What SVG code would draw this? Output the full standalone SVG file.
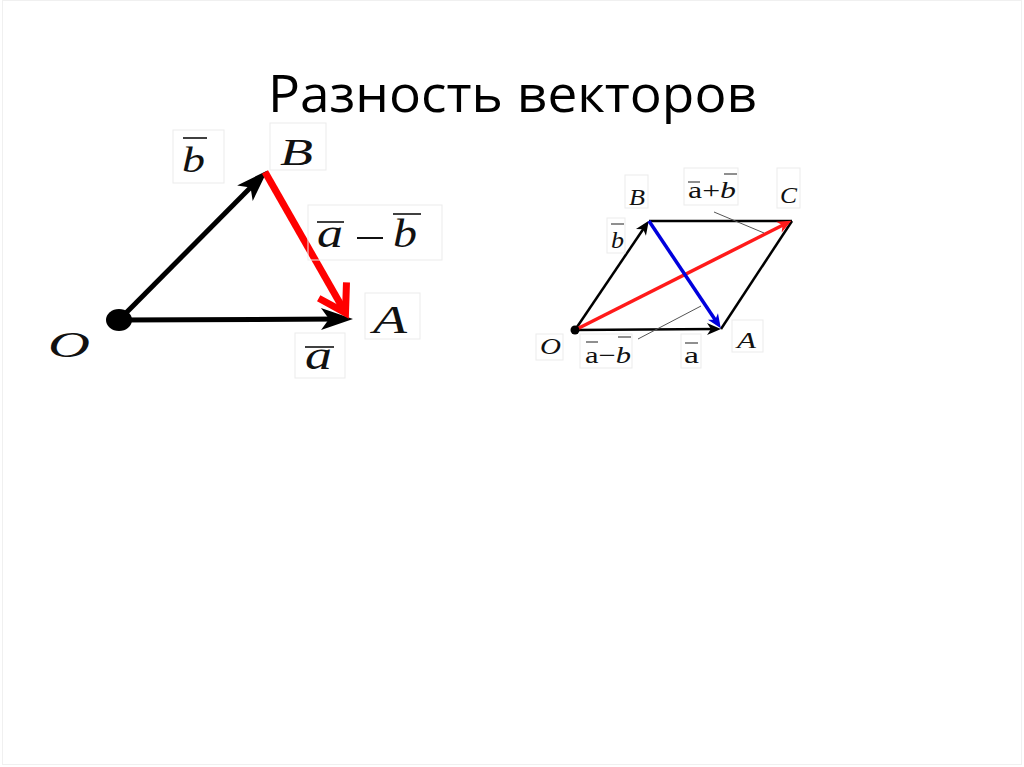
<svg xmlns="http://www.w3.org/2000/svg" width="1024" height="767" viewBox="0 0 1024 767">
<style>
.title{font-family:"Open Sans","Liberation Sans",sans-serif;font-size:52px;fill:#000}
.lb{font-family:"Liberation Serif","DejaVu Serif",serif;font-style:italic;fill:#111}
.rm{font-style:normal}
.box{fill:none;stroke:#ebebeb;stroke-width:1}
.bar{stroke:#111;stroke-width:1.6}
.bar2{stroke:#333;stroke-width:1.1}
.lead{stroke:#555;stroke-width:1}
</style>
<defs>
<marker id="hk" viewBox="-34 -12 36 24" markerWidth="36" markerHeight="24" refX="-12" refY="0" markerUnits="userSpaceOnUse" orient="auto">
<path d="M0,0 L-32,-11 L-24,0 L-32,11 Z" fill="#000"/>
</marker>
<marker id="hr" viewBox="-34 -20 40 40" markerWidth="40" markerHeight="40" refX="-2" refY="0" markerUnits="userSpaceOnUse" orient="auto">
<path d="M-27,-16 L-1,0 L-27,16" fill="none" stroke="#ff0000" stroke-width="7"/>
</marker>
<marker id="sk" viewBox="-16 -7 18 14" markerWidth="18" markerHeight="14" refX="-5" refY="0" markerUnits="userSpaceOnUse" orient="auto">
<path d="M0,0 L-14,-6 L-10,0 L-14,6 Z" fill="#000"/>
</marker>
<marker id="sr" viewBox="-16 -7 18 14" markerWidth="18" markerHeight="14" refX="-5" refY="0" markerUnits="userSpaceOnUse" orient="auto">
<path d="M0,0 L-14,-6 L-10,0 L-14,6 Z" fill="#ff1a1a"/>
</marker>
<marker id="sb" viewBox="-16 -7 18 14" markerWidth="18" markerHeight="14" refX="-5" refY="0" markerUnits="userSpaceOnUse" orient="auto">
<path d="M0,0 L-14,-6 L-10,0 L-14,6 Z" fill="#0000dd"/>
</marker>
</defs>
<rect x="0" y="0" width="1024" height="767" fill="#fff"/>
<rect x="2.5" y="0.5" width="1019" height="764" fill="none" stroke="#f0f0f0" stroke-width="1"/>
<text class="title" x="268" y="112" textLength="489" lengthAdjust="spacingAndGlyphs">Разность векторов</text>

<g id="connectors">
<line x1="119" y1="320" x2="341" y2="319" stroke="#000" stroke-width="5" marker-end="url(#hk)"/>
<line x1="119" y1="320" x2="259" y2="179" stroke="#000" stroke-width="5" marker-end="url(#hk)"/>
<line x1="265" y1="172" x2="345" y2="312" stroke="#ff0000" stroke-width="7" marker-end="url(#hr)"/>

<line x1="649" y1="221" x2="792" y2="221" stroke="#000" stroke-width="2.5"/>
<line x1="792" y1="221" x2="721" y2="329" stroke="#000" stroke-width="2.5"/>
<line x1="575" y1="330" x2="716" y2="329" stroke="#000" stroke-width="2.5" marker-end="url(#sk)"/>
<line x1="575" y1="330" x2="646" y2="225" stroke="#000" stroke-width="2.5" marker-end="url(#sk)"/>
<line x1="575" y1="330" x2="787" y2="223" stroke="#ff1a1a" stroke-width="3.5" marker-end="url(#sr)"/>
<line x1="649" y1="221" x2="718" y2="324" stroke="#0000dd" stroke-width="3.5" marker-end="url(#sb)"/>
<line class="lead" x1="714" y1="212" x2="764" y2="233"/>
<line class="lead" x1="701" y1="306" x2="638" y2="339"/>
</g>

<g id="node-O-left">
<ellipse cx="119" cy="320" rx="13" ry="11" fill="#000"/>
<text class="lb" x="48" y="357" font-size="36" textLength="42" lengthAdjust="spacingAndGlyphs">O</text>
</g>
<g id="node-B-left">
<rect class="box" x="270" y="123" width="56" height="47"/>
<text class="lb" x="280" y="165" font-size="38" textLength="33" lengthAdjust="spacingAndGlyphs">B</text>
</g>
<g id="node-A-left">
<rect class="box" x="365" y="293" width="55" height="46"/>
<text class="lb" x="373" y="333" font-size="39" textLength="34" lengthAdjust="spacingAndGlyphs">A</text>
</g>
<g id="label-b-left">
<rect class="box" x="173" y="130" width="51" height="53"/>
<line class="bar" x1="183" y1="138" x2="207" y2="138"/>
<text class="lb" x="182" y="172" font-size="36" textLength="23" lengthAdjust="spacingAndGlyphs">b</text>
</g>
<g id="label-amb-left">
<rect class="box" x="308" y="205" width="134" height="55"/>
<line class="bar" x1="317" y1="222" x2="344" y2="222"/>
<text class="lb" x="317" y="247" font-size="40" textLength="26" lengthAdjust="spacingAndGlyphs">a</text>
<line x1="357" y1="238" x2="383" y2="238" stroke="#111" stroke-width="2"/>
<line class="bar" x1="393" y1="214" x2="421" y2="214"/>
<text class="lb" x="393" y="247" font-size="40" textLength="24" lengthAdjust="spacingAndGlyphs">b</text>
</g>
<g id="label-a-left">
<rect class="box" x="295" y="333" width="50" height="45"/>
<line class="bar" x1="305" y1="347" x2="334" y2="347"/>
<text class="lb" x="305" y="369" font-size="40" textLength="27" lengthAdjust="spacingAndGlyphs">a</text>
</g>

<g id="node-O-right">
<circle cx="575" cy="330" r="4.5" fill="#000"/>
<rect class="box" x="536" y="334" width="27" height="26"/>
<text class="lb" x="540" y="354" font-size="24" textLength="21" lengthAdjust="spacingAndGlyphs">O</text>
</g>
<g id="node-B-right">
<rect class="box" x="625" y="175" width="23" height="33"/>
<text class="lb" x="629" y="205" font-size="23" textLength="16" lengthAdjust="spacingAndGlyphs">B</text>
</g>
<g id="node-C-right">
<rect class="box" x="777" y="168" width="23" height="40"/>
<text class="lb" x="780" y="203" font-size="23" textLength="17" lengthAdjust="spacingAndGlyphs">C</text>
</g>
<g id="node-A-right">
<rect class="box" x="732" y="320" width="31" height="32"/>
<text class="lb" x="737" y="348" font-size="23" textLength="19" lengthAdjust="spacingAndGlyphs">A</text>
</g>
<g id="label-apb-right">
<rect class="box" x="684" y="168" width="54" height="37"/>
<line class="bar2" x1="688" y1="182" x2="700" y2="182"/>
<line class="bar2" x1="724" y1="174" x2="737" y2="174"/>
<text class="lb" x="688" y="198" font-size="23" textLength="48" lengthAdjust="spacingAndGlyphs"><tspan class="rm">a+</tspan>b</text>
</g>
<g id="label-b-right">
<rect class="box" x="607" y="218" width="18" height="35"/>
<line class="bar2" x1="611" y1="224" x2="624" y2="224"/>
<text class="lb" x="611" y="248" font-size="24" textLength="13" lengthAdjust="spacingAndGlyphs">b</text>
</g>
<g id="label-amb-right">
<rect class="box" x="580" y="334" width="52" height="34"/>
<line class="bar2" x1="586" y1="342" x2="598" y2="342"/>
<line class="bar2" x1="618" y1="337" x2="631" y2="337"/>
<text class="lb" x="585" y="363" font-size="23" textLength="46" lengthAdjust="spacingAndGlyphs"><tspan class="rm">a−</tspan>b</text>
</g>
<g id="label-a-right">
<rect class="box" x="681" y="334" width="20" height="34"/>
<line class="bar2" x1="685" y1="343" x2="698" y2="343"/>
<text class="lb rm" x="684" y="363" font-size="23" textLength="15" lengthAdjust="spacingAndGlyphs">a</text>
</g>
</svg>
